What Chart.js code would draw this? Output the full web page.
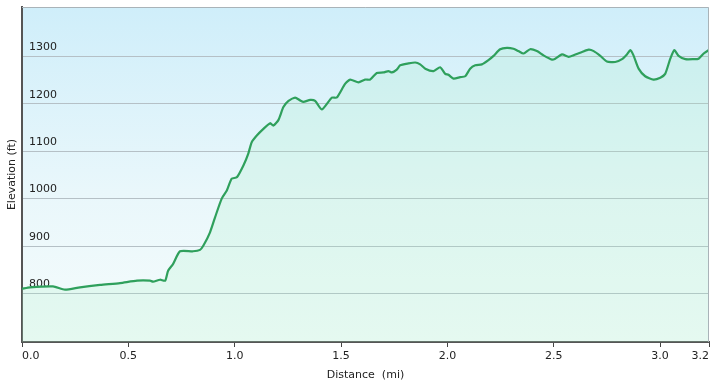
<!DOCTYPE html>
<html>
<head>
<meta charset="utf-8">
<script src="https://cdn.jsdelivr.net/npm/chart.js@4/dist/chart.umd.min.js"></script>
<style>
  html, body { margin: 0; padding: 0; background: #fff; }
  #wrap { width: 715px; height: 388px; }
</style>
</head>
<body>
<div id="wrap"><canvas id="elev"></canvas></div>
<script>
// ---------------- data ----------------
const distances = [
  0.000, 0.038, 0.146, 0.202, 0.273, 0.367, 0.461, 0.541, 0.602, 0.616,
  0.649, 0.673, 0.687, 0.710, 0.743, 0.804, 0.837, 0.853, 0.884, 0.908,
  0.939, 0.963, 0.986, 1.010, 1.041, 1.064, 1.080, 1.104, 1.135, 1.167,
  1.182, 1.206, 1.229, 1.253, 1.284, 1.308, 1.323, 1.355, 1.378, 1.410,
  1.457, 1.480, 1.519, 1.543, 1.582, 1.613, 1.637, 1.668, 1.699, 1.723,
  1.739, 1.762, 1.778, 1.817, 1.849, 1.872, 1.896, 1.935, 1.966, 1.990,
  2.005, 2.029, 2.060, 2.084, 2.107, 2.131, 2.162, 2.193, 2.217, 2.248,
  2.280, 2.311, 2.334, 2.358, 2.389, 2.421, 2.452, 2.492, 2.507, 2.539,
  2.570, 2.593, 2.633, 2.664, 2.688, 2.719, 2.750, 2.789, 2.821, 2.844,
  2.860, 2.875, 2.899, 2.930, 2.969, 3.001, 3.024, 3.048, 3.067, 3.087,
  3.119, 3.158, 3.181, 3.205, 3.228
];
const elevations = [
  810, 813, 815, 808, 813, 818, 822, 827, 827, 825,
  829, 827, 848, 862, 889, 889, 892, 901, 929, 961,
  1000, 1017, 1042, 1045, 1070, 1095, 1119, 1133, 1147, 1159,
  1154, 1166, 1193, 1206, 1213, 1207, 1204, 1208, 1206, 1188,
  1213, 1213, 1242, 1251, 1245, 1251, 1251, 1265, 1266, 1269,
  1266, 1272, 1281, 1285, 1287, 1283, 1274, 1269, 1277, 1263,
  1261, 1253, 1256, 1258, 1274, 1281, 1283, 1292, 1301, 1315,
  1318, 1316, 1311, 1306, 1315, 1311, 1302, 1293, 1295, 1304,
  1299, 1302, 1309, 1314, 1311, 1301, 1289, 1288, 1294, 1304,
  1313, 1302, 1274, 1258, 1251, 1255, 1263, 1295, 1313, 1301,
  1294, 1294, 1295, 1306, 1313
];
const xTickValues = [0, 0.5, 1.0, 1.5, 2.0, 2.5, 3.0, 3.23];
const xTickLabels = ['0.0', '0.5', '1.0', '1.5', '2.0', '2.5', '3.0', '3.2'];
const yTickValues = [800, 900, 1000, 1100, 1200, 1300];

// ---------------- plugins ----------------
// sky gradient behind the plot + light frame on top/right
const plotBackground = {
  id: 'plotBackground',
  beforeDraw(chart) {
    const { ctx, chartArea: a } = chart;
    const g = ctx.createLinearGradient(0, a.top, 0, a.bottom);
    g.addColorStop(0, '#cfeefa');
    g.addColorStop(0.55, '#e9f7fb');
    g.addColorStop(1, '#f5fcfc');
    ctx.save();
    ctx.fillStyle = g;
    ctx.fillRect(a.left, a.top, a.right - a.left, a.bottom - a.top);
    ctx.restore();
  },
  afterDraw(chart) {
    const { ctx, chartArea: a } = chart;
    ctx.save();
    ctx.strokeStyle = '#a9b3b8';
    ctx.lineWidth = 1;
    ctx.beginPath();
    ctx.moveTo(a.left, a.top + 0.5);
    ctx.lineTo(a.right - 0.5, a.top + 0.5);
    ctx.lineTo(a.right - 0.5, a.bottom);
    ctx.stroke();
    ctx.restore();
  }
};

const points = distances.map((d, i) => ({ x: d, y: elevations[i] }));
const fontBase = { family: '"DejaVu Sans", Verdana, sans-serif', size: 11 };

new Chart(document.getElementById('elev'), {
  type: 'line',
  data: {
    datasets: [{
      data: points,
      borderColor: '#2fa05c',
      borderWidth: 2.2,
      backgroundColor: 'rgba(165, 240, 195, 0.2)',
      fill: 'origin',
      pointRadius: 0,
      tension: 0.2
    }]
  },
  plugins: [plotBackground],
  options: {
    responsive: true,
    maintainAspectRatio: false,
    animation: false,
    layout: { padding: { top: 7, right: 6, bottom: 0, left: 0 } },
    plugins: {
      legend: { display: false },
      tooltip: { enabled: false }
    },
    scales: {
      x: {
        type: 'linear',
        min: 0,
        max: 3.23,
        afterBuildTicks: scale => { scale.ticks = xTickValues.map(v => ({ value: v })); },
        afterFit: scale => {
          scale.height = 46;
          scale.paddingLeft = 0;
          scale.paddingRight = 0;
        },
        grid: { drawOnChartArea: false, drawTicks: true, tickLength: 5, color: '#444' },
        border: { display: true, color: '#555', width: 2 },
        ticks: {
          align: 'inner',
          maxRotation: 0,
          padding: 3,
          color: '#222',
          font: fontBase,
          callback: (value, i) => xTickLabels[i]
        },
        title: {
          display: true,
          text: 'Distance  (mi)',
          color: '#222',
          font: fontBase,
          padding: { top: 0, bottom: 6 }
        }
      },
      y: {
        min: 697.7,
        max: 1404,
        afterBuildTicks: scale => { scale.ticks = yTickValues.map(v => ({ value: v })); },
        afterFit: scale => {
          scale.width = 22;
          scale.paddingTop = 0;
          scale.paddingBottom = 0;
        },
        grid: { color: '#b5c0c6', drawTicks: false, lineWidth: 1 },
        border: { display: true, color: '#555', width: 2 },
        ticks: {
          mirror: true,
          padding: 7,
          labelOffset: -9,
          color: '#222',
          font: fontBase,
          callback: value => String(value)
        },
        title: {
          display: true,
          text: 'Elevation (ft)',
          color: '#222',
          font: fontBase,
          padding: { top: 6, bottom: 0 }
        }
      }
    }
  }
});
</script>
</body>
</html>
